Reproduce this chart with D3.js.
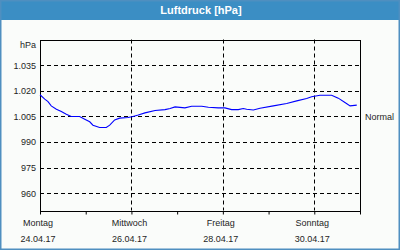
<!DOCTYPE html>
<html>
<head>
<meta charset="utf-8">
<script src="https://cdn.jsdelivr.net/npm/d3@7"></script>
<style>
html,body{margin:0;padding:0;background:#fafcfa;}
svg{display:block;}
</style>
</head>
<body>
<svg id="chart" width="400" height="250"></svg>
<script>
// ---- data ----
const chartTitle = "Luftdruck [hPa]";
const unitLabel = "hPa";
// hours since Monday 24.04.17 00:00
const hours = [0, 2.5, 4.2, 5.9, 8.6, 11.2, 13.8, 16.4, 20.8, 23.5, 26.1, 27.8, 31.3, 34.8, 36.6, 39.2, 41.8, 46.2, 48.8, 51.6, 55.1, 60.4, 65.6, 68.3, 70.9, 76.1, 79.6, 84.9, 88.4, 93.6, 97.1, 100.6, 104.1, 106.7, 108.5, 112, 115.5, 122.5, 129.5, 134.8, 140, 142.6, 147, 153.1, 156.6, 160.1, 162.8, 166.3];
const pressure = [1017.7, 1015.1, 1013.7, 1011.2, 1009.2, 1007.9, 1006.3, 1005, 1005, 1003.4, 1001.9, 999.9, 998.5, 998.5, 999.9, 1003, 1004, 1004.4, 1005, 1005.8, 1007.1, 1008.5, 1009, 1009.6, 1010.6, 1010, 1011, 1011, 1010.4, 1010, 1010, 1009, 1009, 1009.6, 1009.2, 1008.8, 1009.8, 1011.2, 1012.6, 1014.1, 1015.5, 1016.5, 1017.4, 1017.4, 1015.7, 1013.2, 1011.2, 1011.6];
const yTicks = [960, 975, 990, 1005, 1020, 1035];
const dayTickHours = [0, 24, 48, 72, 96, 120, 144, 168];
const labelHours = [0, 48, 96, 144];
const dayNames = ["Montag", "Mittwoch", "Freitag", "Sonntag"];
const dateLabels = ["24.04.17", "26.04.17", "28.04.17", "30.04.17"];
const normalValue = 1005;
const normalLabel = "Normal";

// ---- drawing ----
const W = 400, H = 250;
const svg = d3.select("#chart");
const font = "'Liberation Sans', Arial, sans-serif";
const textColor = "#1e1e1e";

// frame
svg.append("rect").attr("x", 0).attr("y", 0).attr("width", W).attr("height", H).attr("fill", "#fafcfa");
svg.append("rect").attr("x", 0).attr("y", 0).attr("width", W).attr("height", 20).attr("fill", "#3b8ec4");
svg.append("rect").attr("x", 0.75).attr("y", 0.75).attr("width", W - 1.5).attr("height", H - 1.5)
  .attr("fill", "none").attr("stroke", "#4f8fc0").attr("stroke-width", 1.5);
svg.append("text").attr("x", 201).attr("y", 13.5).attr("text-anchor", "middle")
  .attr("font-family", font).attr("font-weight", "bold").attr("font-size", 11)
  .attr("fill", "#ffffff").text(chartTitle);

const x = d3.scaleLinear().domain([0, 168]).range([40, 360]);
const y = d3.scaleLinear().domain([950, 1050]).range([210.5, 39.5]);

const deLocale = d3.formatLocale({decimal: ",", thousands: ".", grouping: [3], currency: ["", " €"]});
const fmt = deLocale.format(",");

// horizontal grid
svg.append("g").selectAll("line").data(yTicks).join("line")
  .attr("x1", x(0)).attr("x2", x(168))
  .attr("y1", d => Math.round(y(d)) + 0.5).attr("y2", d => Math.round(y(d)) + 0.5)
  .attr("stroke", "#000").attr("stroke-width", 1).attr("stroke-dasharray", "4,3");
// vertical grid
svg.append("g").selectAll("line").data(labelHours.slice(1)).join("line")
  .attr("x1", d => Math.round(x(d)) + 0.5).attr("x2", d => Math.round(x(d)) + 0.5)
  .attr("y1", y(1050)).attr("y2", y(950))
  .attr("stroke", "#000").attr("stroke-width", 1).attr("stroke-dasharray", "4,3");

// y axis labels
const yAxis = d3.axisLeft(y).tickValues(yTicks).tickSize(0).tickPadding(4).tickFormat(fmt);
const gy = svg.append("g").attr("transform", `translate(${x(0)},0)`).call(yAxis);
gy.select(".domain").remove();
gy.selectAll("text").attr("font-family", font).attr("font-size", 9).attr("fill", textColor);

// x axis ticks
const xAxis = d3.axisBottom(x).tickValues(dayTickHours).tickSize(3).tickFormat("");
const gx = svg.append("g").attr("transform", `translate(0,${Math.round(y(950)) + 0.5})`).call(xAxis);
gx.select(".domain").remove();
gx.selectAll("line").attr("stroke", "#000");

// plot frame
svg.append("rect").attr("x", Math.round(x(0)) + 0.5).attr("y", Math.round(y(1050)) + 0.5)
  .attr("width", Math.round(x(168)) - Math.round(x(0))).attr("height", Math.round(y(950)) - Math.round(y(1050)))
  .attr("fill", "none").attr("stroke", "#000").attr("stroke-width", 1);

// x labels
const xl = svg.append("g").attr("font-family", font).attr("font-size", 9).attr("fill", textColor).attr("text-anchor", "middle");
xl.selectAll("text.day").data(labelHours).join("text").attr("class", "day")
  .attr("x", d => x(d) - 2).attr("y", 226).text((d, i) => dayNames[i]);
xl.selectAll("text.date").data(labelHours).join("text").attr("class", "date")
  .attr("x", d => x(d) - 2).attr("y", 242).text((d, i) => dateLabels[i]);

// unit label
svg.append("text").attr("x", 36).attr("y", 47.5).attr("text-anchor", "end")
  .attr("font-family", font).attr("font-size", 9).attr("fill", textColor).text(unitLabel);

// normal label
svg.append("text").attr("x", 365).attr("y", y(normalValue)).attr("dy", "0.35em")
  .attr("font-family", font).attr("font-size", 9).attr("fill", textColor).text(normalLabel);

// data line
const pts = hours.map((h, i) => [h, pressure[i]]);
svg.append("path").datum(pts)
  .attr("d", d3.line().x(d => x(d[0])).y(d => y(d[1])))
  .attr("fill", "none").attr("stroke", "#0000ff").attr("stroke-width", 1.1);
</script>
</body>
</html>
